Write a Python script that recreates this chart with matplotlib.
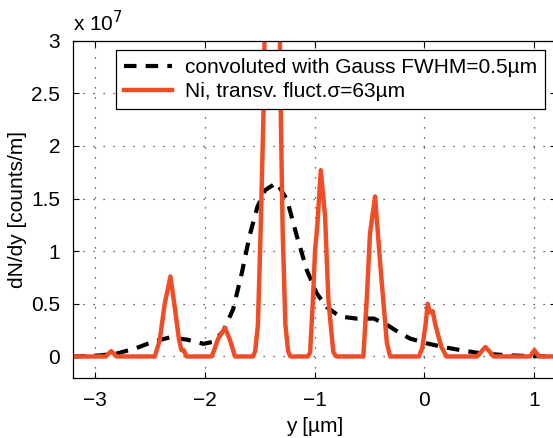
import matplotlib
matplotlib.use("Agg")
import matplotlib.pyplot as plt
from matplotlib.ticker import FuncFormatter

# values in units of 1e7 counts/m, positions in um
ni_y = [-3.2, -2.9, -2.85, -2.8,
        -2.453, -2.408, -2.363, -2.311, -2.272, -2.233, -2.211, -2.19, -2.165,
        -1.937, -1.92, -1.876, -1.815, -1.77, -1.724,
        -1.56, -1.54, -1.515, -1.49, -1.46, -1.45, -1.387, -1.32, -1.31, -1.29,
        -1.265, -1.24, -1.22,
        -1.06, -1.04, -1.016, -0.995, -0.974, -0.943, -0.904, -0.874, -0.829, -0.80,
        -0.556, -0.525, -0.495, -0.449, -0.40, -0.388, -0.342, -0.312,
        -0.05, -0.02, 0.01, 0.03, 0.05, 0.075, 0.10, 0.125, 0.155, 0.2,
        0.48, 0.53, 0.555, 0.59, 0.63, 0.96, 1.0, 1.04, 1.2]
ni_dndy = [0.0, 0.0, 0.05, 0.0,
           0.0, 0.157, 0.5, 0.76, 0.47, 0.16, 0.06, 0.06, 0.0,
           0.0, 0.04, 0.17, 0.27, 0.16, 0.0,
           0.0, 0.05, 0.3, 1.2, 2.5, 3.5, 9.0, 3.5, 2.5, 1.2,
           0.3, 0.05, 0.0,
           0.0, 0.04, 0.5, 1.01, 1.25, 1.77, 1.33, 0.54, 0.04, 0.0,
           0.0, 0.54, 1.17, 1.52, 0.85, 0.70, 0.13, 0.0,
           0.0, 0.08, 0.3, 0.50, 0.42, 0.43, 0.3, 0.2, 0.09, 0.0,
           0.0, 0.06, 0.09, 0.05, 0.0, 0.0, 0.06, 0.0, 0.0]

conv_y = [-3.2, -2.95, -2.79, -2.62, -2.47, -2.32, -2.16, -2.01, -1.92, -1.83,
          -1.74, -1.66, -1.59, -1.52, -1.45, -1.345, -1.25, -1.16, -1.07,
          -0.98, -0.89, -0.77, -0.62, -0.46, -0.34, -0.22, -0.13, 0.02,
          0.17, 0.33, 0.48, 0.63, 0.78, 0.93, 1.2]
conv_dndy = [0.0, 0.01, 0.03, 0.08, 0.14, 0.18, 0.16, 0.12, 0.14, 0.24,
             0.45, 0.8, 1.15, 1.42, 1.58, 1.65, 1.49, 1.14, 0.82,
             0.60, 0.47, 0.38, 0.36, 0.36, 0.30, 0.22, 0.17, 0.125,
             0.09, 0.06, 0.035, 0.02, 0.01, 0.005, 0.0]

x_ticks = [-3, -2, -1, 0, 1]
y_ticks = [0, 0.5, 1, 1.5, 2, 2.5, 3]

plt.rcParams["font.family"] = ["Liberation Sans", "DejaVu Sans"]
plt.rcParams["font.size"] = 15

fig = plt.figure(figsize=(5.53, 4.38), dpi=100)
ax = fig.add_axes([0.1315, 0.1381, 0.8745, 0.769])

ax.plot(conv_y, conv_dndy, color="black", lw=3.0, dashes=(3, 2.2),
        label="convoluted with Gauss FWHM=0.5\u00b5m")
ax.plot(ni_y, ni_dndy, color="#f04d27", lw=3.2, solid_joinstyle="round",
        label="Ni, transv. fluct.\u03c3=63\u00b5m")

ax.set_xlim(-3.2, 1.2)
ax.set_ylim(-0.2, 3)
ax.set_xticks(x_ticks)
ax.set_yticks(y_ticks)
ax.xaxis.set_major_formatter(FuncFormatter(lambda v, p: f"{v:g}".replace("-", "\u2212")))
ax.yaxis.set_major_formatter(FuncFormatter(lambda v, p: f"{v:g}"))
ax.tick_params(direction="in", top=True, right=True, length=4, width=0.8)
ax.tick_params(axis="x", pad=10)
ax.tick_params(axis="y", pad=9)
ax.grid(True, linestyle=(0, (1, 7)), color="black", lw=0.9, alpha=0.8)
for s in ax.spines.values():
    s.set_linewidth(0.9)

ax.set_xlabel("y [\u00b5m]", labelpad=5)
ax.set_ylabel("dN/dy [counts/m]", labelpad=3)
ax.text(0.0, 1.015, r"x 10$^{7}$", transform=ax.transAxes, ha="left", va="bottom")

leg = ax.legend(loc="upper right", bbox_to_anchor=(0.9766, 0.972), borderaxespad=0,
                fancybox=False, framealpha=1, edgecolor="black", handlelength=2.3,
                handletextpad=0.6, labelspacing=0.22, borderpad=0.4)
leg.get_frame().set_linewidth(0.9)

fig.savefig("out.png", dpi=100)
